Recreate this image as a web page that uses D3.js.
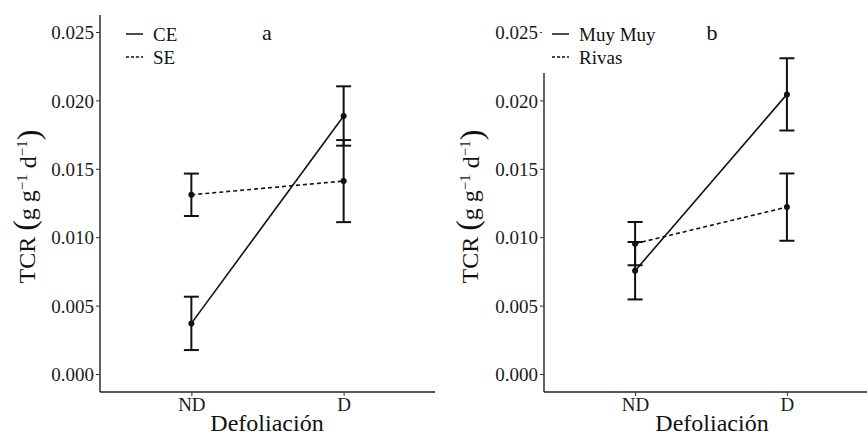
<!DOCTYPE html>
<html>
<head>
<meta charset="utf-8">
<script src="https://cdn.jsdelivr.net/npm/d3@7"></script>
<style>
  body { margin: 0; background: #fff; }
  svg { display: block; font-family: "Liberation Serif", "Times New Roman", serif; }
</style>
</head>
<body>
<svg id="chart" width="867" height="437"></svg>
<script>
// values
var categories = ["ND", "D"];
var yTicks = [0, 0.005, 0.010, 0.015, 0.020, 0.025];

var ceMean = [0.00370, 0.01886], ceErr = [0.00195, 0.00217];
var seMean = [0.01310, 0.01410], seErr = [0.00155, 0.00300];
var muyMean = [0.00755, 0.02044], muyErr = [0.00210, 0.00264];
var rivasMean = [0.00953, 0.01220], rivasErr = [0.00158, 0.00246];

(function () {

  var panels = [
    { id: "a", left: 100, right: 435, titleX: 267, labX: 27,
      series: [{ name: "CE", mean: ceMean, err: ceErr, dash: null },
               { name: "SE", mean: seMean, err: seErr, dash: "4,3" }],
      legendX: 126, cover: false },
    { id: "b", left: 544, right: 878, titleX: 712, labX: 470,
      series: [{ name: "Muy Muy", mean: muyMean, err: muyErr, dash: null },
               { name: "Rivas", mean: rivasMean, err: rivasErr, dash: "4,3" }],
      legendX: 552, cover: true }
  ];

  var svg = d3.select("#chart");
  var plotTop = 15, plotBottom = 392;

  var y = d3.scaleLinear().domain([-0.001316, 0.026243]).range([plotBottom, plotTop]);

  panels.forEach(function (p) {
    var g = svg.append("g");
    var x = d3.scalePoint().domain(categories).range([p.left, p.right]).padding(0.6);

    // axes
    var ya = g.append("g")
      .attr("transform", "translate(" + p.left + ",0)")
      .call(d3.axisLeft(y).tickValues(yTicks).tickFormat(d3.format(".3f")).tickSize(4).tickSizeOuter(0));
    ya.select(".domain").attr("d", "M0," + plotTop + "V" + plotBottom);
    var xa = g.append("g")
      .attr("transform", "translate(0," + plotBottom + ")")
      .call(d3.axisBottom(x).tickSize(4).tickSizeOuter(0));
    xa.select(".domain").attr("d", "M" + p.left + ",0H" + p.right);

    [ya, xa].forEach(function (a) {
      a.select(".domain").attr("stroke", "#222").attr("stroke-width", 1.4);
      a.selectAll(".tick line").attr("stroke", "#333").attr("stroke-width", 1);
      a.selectAll(".tick text").attr("fill", "#1a1a1a").style("font-size", "19px")
        .style("font-family", "Liberation Serif, serif");
    });
    ya.selectAll(".tick text").attr("x", -6).attr("dy", "0.35em");
    xa.selectAll(".tick text").attr("y", 5).attr("dy", "0.75em");

    // lines, error bars, points
    p.series.forEach(function (s) {
      var pts = categories.map(function (c, i) { return { c: c, m: s.mean[i], e: s.err[i] }; });
      var line = d3.line().x(function (d) { return x(d.c); }).y(function (d) { return y(d.m); });
      g.append("path").attr("d", line(pts)).attr("fill", "none").attr("stroke", "#111")
        .attr("stroke-width", 1.6).attr("stroke-dasharray", s.dash);

      var eb = g.selectAll(null).data(pts).enter().append("g").attr("stroke", "#111").attr("stroke-width", 2);
      eb.append("line").attr("x1", function (d) { return x(d.c); }).attr("x2", function (d) { return x(d.c); })
        .attr("y1", function (d) { return y(d.m - d.e); }).attr("y2", function (d) { return y(d.m + d.e); });
      eb.append("line").attr("x1", function (d) { return x(d.c) - 7.5; }).attr("x2", function (d) { return x(d.c) + 7.5; })
        .attr("y1", function (d) { return y(d.m + d.e); }).attr("y2", function (d) { return y(d.m + d.e); });
      eb.append("line").attr("x1", function (d) { return x(d.c) - 7.5; }).attr("x2", function (d) { return x(d.c) + 7.5; })
        .attr("y1", function (d) { return y(d.m - d.e); }).attr("y2", function (d) { return y(d.m - d.e); });

      g.selectAll(null).data(pts).enter().append("circle")
        .attr("cx", function (d) { return x(d.c); }).attr("cy", function (d) { return y(d.m); })
        .attr("r", 3).attr("fill", "#111");
    });

    // legend
    var lg = g.append("g");
    if (p.cover) {
      lg.append("rect").attr("x", p.legendX - 10).attr("y", plotTop - 2).attr("width", 110).attr("height", 60).attr("fill", "#fff");
    }
    p.series.forEach(function (s, i) {
      var ly = 34 + i * 23;
      lg.append("line").attr("x1", p.legendX).attr("x2", p.legendX + 17).attr("y1", ly).attr("y2", ly)
        .attr("stroke", "#111").attr("stroke-width", 1.5).attr("stroke-dasharray", s.dash ? "3,2" : null);
      lg.append("text").attr("x", p.legendX + 27).attr("y", ly).attr("dy", "0.35em")
        .style("font-size", "19px").attr("fill", "#111").text(s.name);
    });

    // panel letter
    g.append("text").attr("x", p.titleX).attr("y", 32).attr("dy", "0.35em").attr("text-anchor", "middle")
      .style("font-size", "22px").attr("fill", "#111").text(p.id);

    // axis titles
    g.append("text").attr("x", p.titleX).attr("y", 431).attr("text-anchor", "middle")
      .style("font-size", "24px").attr("fill", "#111").text("Defoliación");

    var yl = g.append("text").attr("transform", "translate(" + p.labX + "," + ((plotTop + plotBottom) / 2 + 3) + ") rotate(-90)")
      .attr("text-anchor", "middle").attr("dy", "0.35em").style("font-size", "24px").attr("fill", "#111");
    yl.append("tspan").text("TCR ");
    yl.append("tspan").style("font-size", "32px").text("(");
    yl.append("tspan").text("g g");
    yl.append("tspan").attr("dy", "-0.55em").style("font-size", "15px").text("−1");
    yl.append("tspan").attr("dy", "0.35em").text(" d");
    yl.append("tspan").attr("dy", "-0.55em").style("font-size", "15px").text("−1");
    yl.append("tspan").attr("dy", "0.35em").style("font-size", "32px").text(")");
  });

})();
</script>
</body>
</html>
